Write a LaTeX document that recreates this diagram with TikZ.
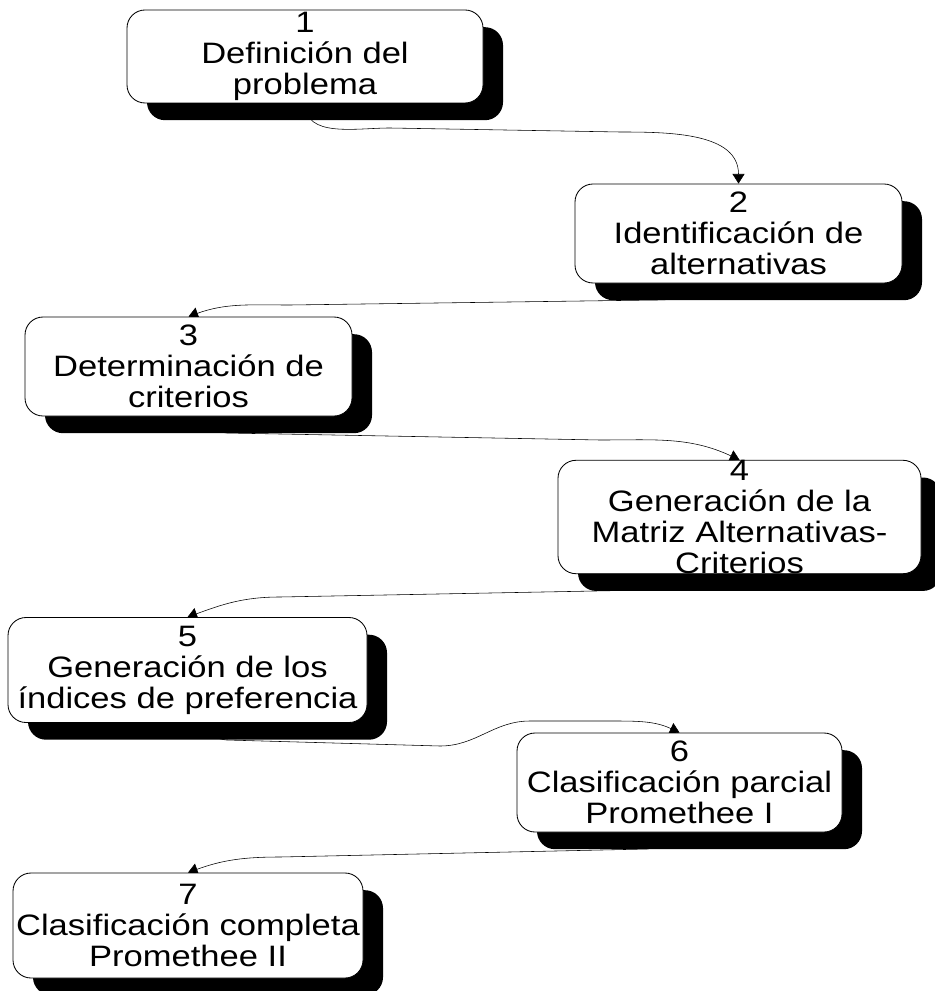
\documentclass[tikz,border=0pt]{standalone}
\usepackage{fontspec}
\setmainfont{Liberation Sans}[FakeStretch=1.17]
\usetikzlibrary{arrows.meta, shadows}
\pgfdeclarelayer{background}
\pgfsetlayers{background,main}
\def\unit{0.025cm}

\begin{document}
\begin{tikzpicture}[x=\unit, y=-\unit, line width=0.6pt, >={Triangle[length=0.24cm,width=0.3cm]}]
    \tikzstyle{paso}=[draw=black, fill=white, rounded corners=0.45cm, inner sep=0pt, align=center, font=\fontsize{21}{22}\selectfont, drop shadow={shadow xshift=0.5cm, shadow yshift=-0.43cm, fill=black, opacity=1}]
    \tikzstyle{enlace}=[->, draw=black]
    \useasboundingbox (0,0) rectangle (934,991);

    \node[paso, minimum width=356*\unit, minimum height=93*\unit] (P-1) at (305,56.5) {1\\Definición del\\problema};
    \node[paso, minimum width=327*\unit, minimum height=99*\unit] (P-2) at (738.5,233.5) {2\\Identificación de\\alternativas};
    \node[paso, minimum width=327*\unit, minimum height=99*\unit] (P-3) at (188.5,366.5) {3\\Determinación de\\criterios};
    \node[paso, minimum width=363*\unit, minimum height=110*\unit] (P-4) at (739.5,517) {4\\Generación de la\\Matriz Alternativas-\\Criterios};
    \node[paso, minimum width=359*\unit, minimum height=105*\unit] (P-5) at (187.5,670) {5\\Generación de los\\índices de preferencia};
    \node[paso, minimum width=325*\unit, minimum height=99*\unit] (P-6) at (679.5,782.5) {6\\Clasificación parcial\\Promethee I};
    \node[paso, minimum width=350*\unit, minimum height=105*\unit] (P-7) at (188,925.5) {7\\Clasificación completa\\Promethee II};

    % enlaces detras de las sombras
    \begin{pgfonlayer}{background}
    \draw[enlace] (P-1.south) to[out=-90,in=180] (390,128) -- (620,132) to[out=0,in=90] (P-2.north);
    \draw[enlace] (P-2.south) to[out=-90,in=0,looseness=0.4] (655,300) -- (290,305) to[out=180,in=20] (P-3.north);
    \draw[enlace] (P-3.south) to[out=-90,in=180,looseness=0.4] (227,433) -- (600,440) to[out=0,in=155] (P-4.north);
    \draw[enlace] (P-4.south) to[out=-90,in=0,looseness=0.4] (700,589) -- (280,597) to[out=180,in=20] (P-5.north);
    \draw[enlace] (P-5.south) to[out=-90,in=180,looseness=0.4] (227,740) -- (440,746) to[out=0,in=180] (530,721) -- (610,721) to[out=0,in=155] (P-6.north);
    \draw[enlace] (P-6.south) to[out=-90,in=0,looseness=0.4] (647,849) -- (280,857) to[out=180,in=20] (P-7.north);
    \end{pgfonlayer}
\end{tikzpicture}
\end{document}
